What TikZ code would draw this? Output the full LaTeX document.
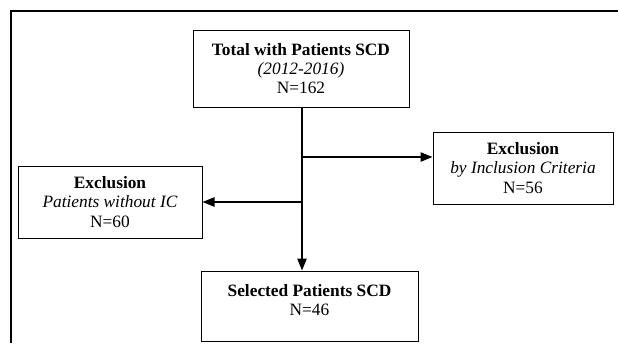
\documentclass[tikz,border=0pt]{standalone}
\usepackage{fontspec}
\setmainfont{Liberation Serif}
\usetikzlibrary{arrows.meta}
\begin{document}
\begin{tikzpicture}[x=0.75pt,y=-0.75pt,
  box/.style={draw=black,line width=0.75pt,rectangle,align=center,inner sep=0pt,
    font=\fontsize{13}{14.5}\selectfont},
  conn/.style={line width=1.2pt,-{Triangle[length=9pt,width=7pt]}},
  frameline/.style={line width=1.5pt}]
\useasboundingbox (0,0) rectangle (618,343);
\coordinate (fa) at (11,343);
\coordinate (fb) at (11,11);
\coordinate (fc) at (618,11);
\draw[frameline] (fa) -- (fb) -- (fc);
\node[box,minimum width=216*0.75pt,minimum height=77*0.75pt] (top) at (301,68.5)
  {\textbf{Total with Patients SCD}\\ \textit{(2012-2016)}\\ N=162};
\node[box,minimum width=180*0.75pt,minimum height=72*0.75pt] (right) at (523,168)
  {\textbf{Exclusion}\\ \textit{by Inclusion Criteria}\\ N=56};
\node[box,minimum width=184*0.75pt,minimum height=72*0.75pt] (left) at (110,202)
  {\textbf{Exclusion}\\ \textit{Patients without IC}\\ N=60};
\node[box,minimum width=217*0.75pt,minimum height=70*0.75pt] (sel) at (309.5,306)
  {\textbf{Selected Patients SCD}\\ N=46\\[-5.5pt]};
\coordinate (br1) at (302,157);
\coordinate (br2) at (302,202);
\draw[conn] (top.south -| br1) -- (sel.north -| br1);
\draw[conn] (br1) -- (br1 -| right.west);
\draw[conn] (br2) -- (br2 -| left.east);
\end{tikzpicture}
\end{document}
